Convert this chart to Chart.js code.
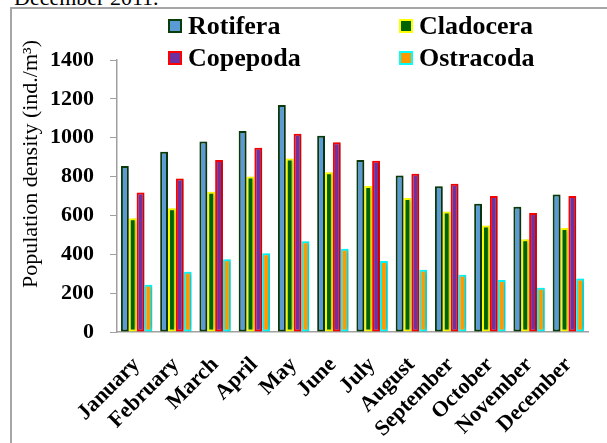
<!DOCTYPE html>
<html lang="en">
  <head>
    <meta charset="UTF-8" />
    <title>Zooplankton density</title>
    <script src="https://cdn.jsdelivr.net/npm/chart.js"></script>
    <style>
      body { margin: 0; background: #fff; width: 607px; height: 443px; overflow: hidden; position: relative; }
      #caption { position: absolute; left: 14px; top: -15px; font: 22px "Liberation Serif", "Times New Roman", serif; }
      #frame { position: absolute; left: 10px; top: 7px; width: 620px; height: 460px; border-left: 2px solid #a6a6a6; border-top: 2px solid #a6a6a6; }
      #wrap { position: absolute; left: 0; top: 0; width: 607px; height: 443px; }
    </style>
  </head>
  <body>
    <div id="caption">December 2011.</div>
    <div id="frame"></div>
    <div id="wrap"><canvas id="chart"></canvas></div>

    <script>
      const months = ['January', 'February', 'March', 'April', 'May', 'June', 'July', 'August', 'September', 'October', 'November', 'December'];
      const rotifera = [855, 928, 980, 1035, 1168, 1010, 885, 805, 750, 660, 645, 708];
      const cladocera = [585, 637, 722, 800, 893, 822, 752, 690, 620, 548, 478, 535];
      const copepoda = [718, 790, 885, 948, 1020, 977, 882, 815, 763, 700, 612, 700];
      const ostracoda = [243, 310, 375, 405, 467, 428, 365, 320, 295, 268, 228, 275];
      const yTicks = [0, 200, 400, 600, 800, 1000, 1200, 1400];

      const serif = '"Liberation Serif", "Times New Roman", serif';

      // legend in two columns + rotated y title, drawn on the canvas
      const legendPlugin = {
        id: 'twoColLegend',
        afterDraw(chart) {
          const ctx = chart.ctx;
          const cols = [168, 399];
          const rows = [26, 58];
          ctx.save();
          ctx.font = 'bold 26px ' + serif;
          ctx.textBaseline = 'middle';
          chart.data.datasets.forEach((ds, i) => {
            const x = cols[i % 2];
            const y = rows[Math.floor(i / 2)];
            ctx.fillStyle = ds.backgroundColor;
            ctx.fillRect(x, y - 7, 14, 14);
            ctx.strokeStyle = ds.borderColor;
            ctx.lineWidth = 2;
            ctx.strokeRect(x + 1, y - 6, 12, 12);
            ctx.fillStyle = '#000';
            ctx.fillText(ds.label, x + 20, y + 1);
          });
          ctx.translate(31, 164);
          ctx.rotate(-Math.PI / 2);
          ctx.font = '22px ' + serif;
          ctx.textAlign = 'center';
          ctx.fillText('Population density (ind./m\u00b3)', 0, 0);
          ctx.restore();
        },
      };

      // soft shadow behind the bars
      const shadowPlugin = {
        id: 'barShadow',
        beforeDatasetsDraw(chart) {
          const ctx = chart.ctx;
          ctx.save();
          ctx.shadowColor = 'rgba(0,0,0,0.3)';
          ctx.shadowBlur = 4;
          ctx.shadowOffsetX = 2;
        },
        afterDatasetsDraw(chart) {
          chart.ctx.restore();
        },
      };

      const ctx = document.getElementById('chart').getContext('2d');
      new Chart(ctx, {
        type: 'bar',
        data: {
          labels: months,
          datasets: [
            { label: 'Rotifera', data: rotifera, backgroundColor: '#5b9bd5', borderColor: '#0b3d0b' },
            { label: 'Cladocera', data: cladocera, backgroundColor: '#006400', borderColor: '#ffff00' },
            { label: 'Copepoda', data: copepoda, backgroundColor: '#7030a0', borderColor: '#ff0000' },
            { label: 'Ostracoda', data: ostracoda, backgroundColor: '#ff9900', borderColor: '#00ffff' },
          ],
        },
        options: {
          responsive: true,
          maintainAspectRatio: false,
          animation: false,
          layout: { padding: { left: 40, right: 19, top: 60, bottom: 0 } },
          datasets: {
            bar: { borderWidth: 2, categoryPercentage: 0.8, barPercentage: 1.0, borderSkipped: false },
          },
          plugins: { legend: { display: false }, tooltip: { enabled: false } },
          scales: {
            x: {
              grid: { display: false },
              border: { color: '#a0a0a0', width: 1.5 },
              ticks: {
                color: '#000',
                font: { family: serif, size: 22, weight: 'bold' },
                minRotation: 45,
                maxRotation: 45,
                autoSkip: false,
                padding: 12,
              },
              afterFit(scale) { scale.height = 111; },
            },
            y: {
              min: 0,
              max: 1400,
              afterBuildTicks(scale) { scale.ticks = yTicks.map((v) => ({ value: v })); },
              grid: { display: true, drawOnChartArea: false, tickLength: 7, color: '#a0a0a0' },
              border: { color: '#a0a0a0', width: 1.5 },
              ticks: {
                color: '#000',
                font: { family: serif, size: 22, weight: 'bold' },
                padding: 16,
                callback: (v) => String(v),
              },
              afterFit(scale) { scale.width = 77; },
            },
          },
        },
        plugins: [shadowPlugin, legendPlugin],
      });
    </script>
  </body>
</html>
